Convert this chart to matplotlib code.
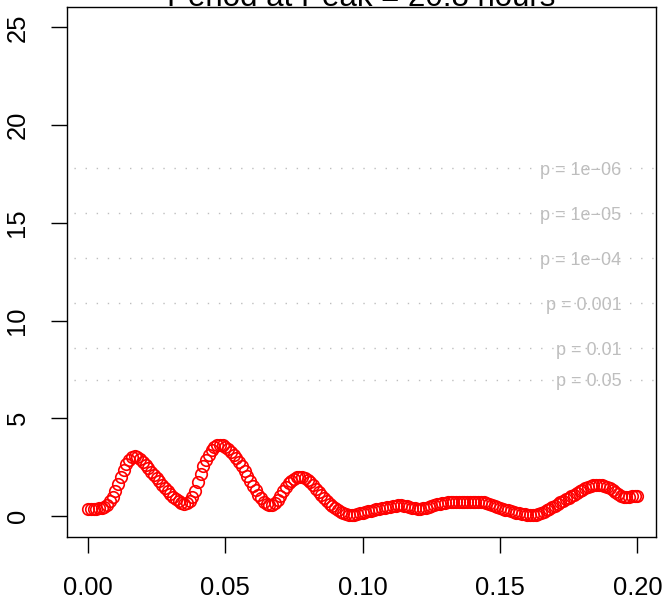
import numpy as np
import matplotlib
matplotlib.use("Agg")
import matplotlib.pyplot as plt
import matplotlib.transforms as mtransforms

plt.rcParams['font.family'] = ['Liberation Sans', 'DejaVu Sans']

# ---- data ----
frequency = np.linspace(0.0, 0.2, 201)
power = [
    0.36, 0.36, 0.37, 0.38, 0.40, 0.43, 0.48, 0.58, 0.75, 1.00,
    1.30, 1.65, 2.00, 2.38, 2.68, 2.88, 3.00, 3.05, 3.02, 2.92,
    2.78, 2.62, 2.45, 2.28, 2.10, 1.93, 1.77, 1.60, 1.44, 1.28,
    1.13, 0.99, 0.86, 0.75, 0.66, 0.62, 0.65, 0.76, 0.98, 1.30,
    1.72, 2.15, 2.55, 2.88, 3.15, 3.38, 3.54, 3.63, 3.66, 3.62,
    3.54, 3.43, 3.30, 3.15, 2.97, 2.76, 2.54, 2.30, 2.06, 1.81,
    1.56, 1.32, 1.10, 0.90, 0.74, 0.62, 0.56, 0.56, 0.65, 0.82,
    1.04, 1.27, 1.49, 1.67, 1.82, 1.92, 1.98, 2.00, 1.99, 1.94,
    1.85, 1.72, 1.57, 1.40, 1.23, 1.06, 0.90, 0.75, 0.62, 0.50,
    0.40, 0.31, 0.23, 0.16, 0.11, 0.07, 0.06, 0.07, 0.10, 0.14,
    0.18, 0.21, 0.25, 0.28, 0.31, 0.34, 0.37, 0.40, 0.43, 0.46,
    0.49, 0.52, 0.54, 0.55, 0.55, 0.53, 0.50, 0.46, 0.42, 0.39,
    0.38, 0.38, 0.40, 0.43, 0.47, 0.52, 0.57, 0.61, 0.64, 0.67,
    0.69, 0.70, 0.71, 0.71, 0.72, 0.72, 0.72, 0.72, 0.73, 0.73,
    0.74, 0.74, 0.74, 0.72, 0.70, 0.66, 0.61, 0.56, 0.51, 0.46,
    0.42, 0.37, 0.33, 0.29, 0.25, 0.21, 0.18, 0.15, 0.12, 0.10,
    0.08, 0.06, 0.06, 0.07, 0.10, 0.15, 0.22, 0.30, 0.38, 0.46,
    0.54, 0.62, 0.70, 0.78, 0.86, 0.94, 1.02, 1.10, 1.18, 1.27,
    1.35, 1.42, 1.48, 1.53, 1.57, 1.59, 1.60, 1.59, 1.56, 1.50,
    1.42, 1.33, 1.22, 1.11, 1.02, 0.97, 0.96, 0.98, 1.01, 1.04,
    1.05,
]
sig_levels = [6.972, 8.581, 10.884, 13.186, 15.489, 17.791]
sig_labels = ["p = 0.05", "p = 0.01", "p = 0.001",
              "p = 1e\u221204", "p = 1e\u221205", "p = 1e\u221206"]
x_ticks = [0.00, 0.05, 0.10, 0.15, 0.20]
x_ticklabels = ["0.00", "0.05", "0.10", "0.15", "0.20"]
y_ticks = [0, 5, 10, 15, 20, 25]
y_ticklabels = ["0", "5", "10", "15", "20", "25"]
title = "Period at Peak = 20.8 hours"

# ---- figure ----
W, H = 666, 601
fig = plt.figure(figsize=(W / 100, H / 100), dpi=100)
left, right, top, bottom = 67, 656, 7.3, 537
ax = fig.add_axes([left / W, (H - bottom) / H, (right - left) / W, (bottom - top) / H])

ax.set_xlim(-0.00765, 0.2068)
ax.set_ylim(-1.07, 26.03)

grey = "#BEBEBE"
for lvl, lab in zip(sig_levels, sig_labels):
    ax.axhline(lvl, color=grey, lw=1.0, linestyle=(3, (1.0, 7.0)), zorder=1)
    off = mtransforms.offset_copy(ax.transData, fig=fig, x=0, y=-0.358 * 13, units='points')
    ax.text(0.1942, lvl, lab, transform=off, ha='right', va='baseline',
            fontsize=13, color=grey, zorder=2)

ax.plot(frequency, power, linestyle='none', marker='o', markersize=8.3,
        markerfacecolor='none', markeredgecolor='#FF0000', markeredgewidth=1.2,
        zorder=3)

for s in ax.spines.values():
    s.set_linewidth(1.0)
    s.set_color('black')

ax.set_xticks(x_ticks)
ax.set_xticklabels(x_ticklabels, fontsize=18.4)
ax.set_yticks(y_ticks)
ax.set_yticklabels(y_ticklabels, fontsize=18.4, rotation=90, va='center')
ax.tick_params(axis='x', length=11.5, width=1.0, direction='out', pad=16.8)
ax.tick_params(axis='y', length=11.5, width=1.0, direction='out', pad=15.5)

cx = (left + right) / 2 / W
fig.text(cx, (H - 6) / H, title, ha='center', va='baseline', fontsize=22.5)

fig.savefig("out.png", dpi=100)
